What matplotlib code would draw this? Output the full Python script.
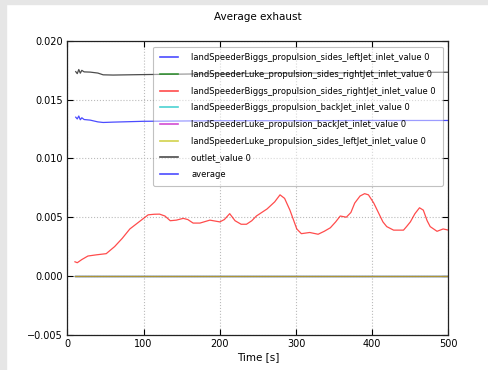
import matplotlib
matplotlib.use("Agg")
import matplotlib.pyplot as plt
from matplotlib.patches import Rectangle

# time axes of the series [s]
t_flat = [10, 500]
t_outlet = [11, 13, 15, 17, 19, 22, 30, 40, 47, 60, 100, 200, 300, 400, 500]
t_red = [10, 13, 19, 27, 38, 51, 62, 72, 82, 92, 100, 106, 114, 121, 128, 135, 143, 152,
         158, 165, 174, 187, 200, 206, 213, 220, 228, 235, 242, 248, 262, 272, 279, 285,
         292, 301, 307, 318, 329, 337, 345, 352, 358, 366, 372, 377, 384, 390, 395, 402,
         408, 414, 419, 428, 441, 445, 450, 456, 462, 467, 472, 476, 485, 493, 500]

zero_vals = [0.0, 0.0]
outlet_vals = [0.01737, 0.0172, 0.01755, 0.01724, 0.01748, 0.01735, 0.01733, 0.01725,
               0.0171, 0.01708, 0.01712, 0.0172, 0.01725, 0.01728, 0.01732]
average_vals = [0.0135, 0.01335, 0.0136, 0.01328, 0.01345, 0.0133, 0.01325, 0.0131,
                0.01305, 0.01308, 0.01315, 0.0132, 0.0132, 0.01322, 0.01322]
biggs_right_vals = [0.00121, 0.00113, 0.0014, 0.0017, 0.0018, 0.0019, 0.0025, 0.0032,
                    0.0040, 0.0045, 0.0049, 0.0052, 0.00525, 0.00526, 0.0051, 0.0047,
                    0.00475, 0.0049, 0.0048, 0.0045, 0.0045, 0.00475, 0.0046, 0.0048,
                    0.0053, 0.0047, 0.0044, 0.0044, 0.0047, 0.0051, 0.0057, 0.0063,
                    0.0069, 0.0066, 0.0056, 0.0040, 0.0036, 0.0037, 0.00355, 0.0038,
                    0.0041, 0.0046, 0.0051, 0.0050, 0.0054, 0.0062, 0.0068, 0.0070,
                    0.0069, 0.0062, 0.0054, 0.0046, 0.0042, 0.0039, 0.0039, 0.0042,
                    0.0046, 0.0053, 0.0058, 0.0056, 0.0047, 0.0042, 0.0038, 0.0040, 0.0039]

labels = ["landSpeederBiggs_propulsion_sides_leftJet_inlet_value 0",
          "landSpeederLuke_propulsion_sides_rightJet_inlet_value 0",
          "landSpeederBiggs_propulsion_sides_rightJet_inlet_value 0",
          "landSpeederBiggs_propulsion_backJet_inlet_value 0",
          "landSpeederLuke_propulsion_backJet_inlet_value 0",
          "landSpeederLuke_propulsion_sides_leftJet_inlet_value 0",
          "outlet_value 0",
          "average"]
series = [(t_flat, zero_vals), (t_flat, zero_vals), (t_red, biggs_right_vals),
          (t_flat, zero_vals), (t_flat, zero_vals), (t_flat, zero_vals),
          (t_outlet, outlet_vals), (t_outlet, average_vals)]
colors = ['b', 'g', 'r', 'c', 'm', 'y', 'k', 'b']

fig = plt.figure(figsize=(4.88, 3.70), dpi=100)
fig.patches.append(Rectangle((0, 0), 6 / 488, 1, transform=fig.transFigure,
                             color='#e6e6e6', zorder=-10))
fig.patches.append(Rectangle((0, 1 - 4 / 370), 1, 4 / 370, transform=fig.transFigure,
                             color='#e6e6e6', zorder=-10))
ax = fig.add_axes([0.138, 0.095, 0.781, 0.795])

for (t, v), c, lab in zip(series, colors, labels):
    ax.plot(t, v, color=c, alpha=0.7, lw=0.9, label=lab)

ax.set_xlim(0, 500)
ax.set_ylim(-0.005, 0.020)
ax.set_xticks([0, 100, 200, 300, 400, 500])
ax.set_yticks([-0.005, 0.0, 0.005, 0.010, 0.015, 0.020])
ax.set_yticklabels(['\u22120.005', '0.000', '0.005', '0.010', '0.015', '0.020'])
ax.tick_params(direction='in', top=True, right=True, labelsize=7, length=4, pad=3)
ax.grid(True, linestyle=':', color='#bbbbbb', lw=0.8)
for s in ax.spines.values():
    s.set_linewidth(0.9)
    s.set_color('#222222')

ax.set_xlabel("Time [s]", fontsize=7.5, labelpad=2)
ax.set_title("Average exhaust", fontsize=7.5, pad=15)

leg = ax.legend(loc='upper right', fontsize=6, handlelength=2.2, handletextpad=1.6,
                labelspacing=0.92, borderpad=0.8, framealpha=0.45, fancybox=True,
                bbox_to_anchor=(0.985, 0.98), borderaxespad=0)
leg.get_frame().set_edgecolor('#777777')
leg.get_frame().set_linewidth(0.8)
for line in leg.get_lines():
    line.set_linewidth(1.2)

fig.savefig("out.png", dpi=100)
